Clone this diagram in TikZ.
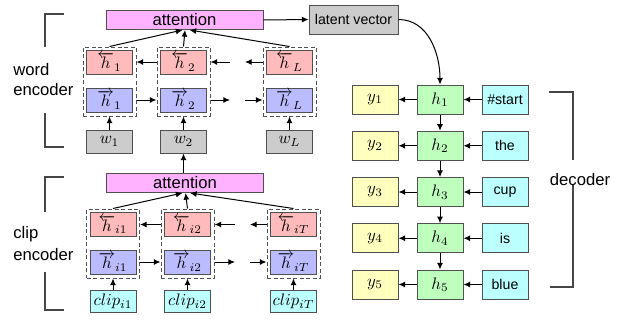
\documentclass[tikz,border=0pt]{standalone}
\usepackage{fontspec}
\setmainfont{Liberation Sans}
\usetikzlibrary{arrows.meta}
\definecolor{bordergray}{RGB}{80,80,80}
\definecolor{brackgray}{RGB}{70,70,70}
\definecolor{attncol}{RGB}{255,178,255}
\definecolor{redcol}{RGB}{255,187,187}
\definecolor{bluecol}{RGB}{187,187,255}
\definecolor{graycol}{RGB}{204,204,204}
\definecolor{cyancol}{RGB}{187,255,255}
\definecolor{yellowcol}{RGB}{255,255,190}
\definecolor{greencol}{RGB}{190,255,190}
\begin{document}
\begin{tikzpicture}[x=0.6pt,y=-0.6pt,
  box/.style={draw=bordergray, line width=0.6pt, inner sep=0pt,
    minimum width={46*0.6pt}, minimum height={24*0.6pt},
    font=\fontsize{10}{12}\selectfont},
  attn/.style={box, fill=attncol, minimum width={157*0.6pt}, minimum height={19*0.6pt}},
  bwd/.style={box, fill=redcol},
  fwd/.style={box, fill=bluecol},
  inp/.style={box, fill=graycol, minimum height={23*0.6pt}},
  clipbox/.style={box, fill=cyancol, minimum height={22*0.6pt}},
  group/.style={draw=bordergray, line width=0.6pt, dash pattern=on 2.4pt off 1.5pt,
    inner sep=0pt, minimum width={53*0.6pt}, minimum height={69*0.6pt}},
  dbox/.style={box, minimum height={29*0.6pt}},
  small/.style={font=\fontsize{8.5}{10}\selectfont},
  arr/.style={-{Latex[length=4pt,width=3.6pt]}, line width=0.6pt},
  brk/.style={draw=brackgray, line width=0.8pt},
  lbl/.style={font=\fontsize{10}{12}\selectfont, inner sep=0pt, anchor=base west}
]
\useasboundingbox (0,0) rectangle (618,323);

% ---------- word encoder ----------
\node[attn] (wattn) at (184.5,20) {attention};
\node[box, fill=graycol, small, minimum width={89*0.6pt}, minimum height={29*0.6pt}] (lat) at (353.5,19.5) {latent vector};

\node[group] (wg1) at (109.5,81.5) {};
\node[group] (wg2) at (183.5,81.5) {};
\node[group] (wg3) at (289.5,81.5) {};
\node[bwd] (wb1) at (109.5,62) {$\overleftarrow{h}_1$};
\node[bwd] (wb2) at (183.5,62) {$\overleftarrow{h}_2$};
\node[bwd] (wb3) at (289.5,62) {$\overleftarrow{h}_L$};
\node[fwd] (wf1) at (109.5,100) {$\overrightarrow{h}_1$};
\node[fwd] (wf2) at (183.5,100) {$\overrightarrow{h}_2$};
\node[fwd] (wf3) at (289.5,100) {$\overrightarrow{h}_L$};
\node[inp] (w1) at (109.5,141.5) {$w_1$};
\node[inp] (w2) at (183.5,141.5) {$w_2$};
\node[inp] (w3) at (289.5,141.5) {$w_L$};

\coordinate (wbL) at (230,62);
\coordinate (wbR) at (245,62);
\coordinate (wfL) at (230,100);
\coordinate (wfR) at (245,100);

\draw[arr] (w1.north) -- (wg1.south);
\draw[arr] (w2.north) -- (wg2.south);
\draw[arr] (w3.north) -- (wg3.south);
\draw[arr] (wb2 -| wg2.west) -- (wb1 -| wg1.east);
\draw[arr] (wbL) -- (wb2 -| wg2.east);
\draw[arr] (wb3 -| wg3.west) -- (wbR);
\draw[arr] (wf1 -| wg1.east) -- (wf2 -| wg2.west);
\draw[arr] (wf2 -| wg2.east) -- (wfL);
\draw[arr] (wfR) -- (wf3 -| wg3.west);
\draw[arr] (wg1.north) -- ([xshift=-1.2pt]wattn.south);
\draw[arr] (wg2.north) -- ([xshift=0.3pt]wattn.south);
\draw[arr] (wg3.north) -- ([xshift=3pt]wattn.south);
\draw[arr] (wattn.east) -- (lat.west);

% ---------- clip encoder ----------
\node[attn] (cattn) at (185,183) {attention};
\node[group] (cg1) at (113,243.5) {};
\node[group] (cg2) at (187.5,243.5) {};
\node[group] (cg3) at (293.5,243.5) {};
\node[bwd] (cb1) at (113,224.5) {$\overleftarrow{h}_{i1}$};
\node[bwd] (cb2) at (187.5,224.5) {$\overleftarrow{h}_{i2}$};
\node[bwd] (cb3) at (293.5,224.5) {$\overleftarrow{h}_{iT}$};
\node[fwd] (cf1) at (113,262) {$\overrightarrow{h}_{i1}$};
\node[fwd] (cf2) at (187.5,262) {$\overrightarrow{h}_{i2}$};
\node[fwd] (cf3) at (293.5,262) {$\overrightarrow{h}_{iT}$};
\node[clipbox] (c1) at (113,301.5) {$clip_{i1}$};
\node[clipbox] (c2) at (187.5,301.5) {$clip_{i2}$};
\node[clipbox] (c3) at (293.5,301.5) {$clip_{iT}$};

\coordinate (cbL) at (235,224.5);
\coordinate (cbR) at (250,224.5);
\coordinate (cfL) at (235,262);
\coordinate (cfR) at (250,262);

\draw[arr] (c1.north) -- (cg1.south);
\draw[arr] (c2.north) -- (cg2.south);
\draw[arr] (c3.north) -- (cg3.south);
\draw[arr] (cb2 -| cg2.west) -- (cb1 -| cg1.east);
\draw[arr] (cbL) -- (cb2 -| cg2.east);
\draw[arr] (cb3 -| cg3.west) -- (cbR);
\draw[arr] (cf1 -| cg1.east) -- (cf2 -| cg2.west);
\draw[arr] (cf2 -| cg2.east) -- (cfL);
\draw[arr] (cfR) -- (cf3 -| cg3.west);
\draw[arr] (cg1.north) -- ([xshift=-1.5pt]cattn.south);
\draw[arr] (cg2.north) -- ([xshift=0.3pt]cattn.south);
\draw[arr] (cg3.north) -- ([xshift=3pt]cattn.south);
\draw[arr] (w2 |- cattn.north) -- (w2.south);

% ---------- decoder ----------
\node[dbox, fill=yellowcol] (y1) at (375,99.5) {$y_1$};
\node[dbox, fill=yellowcol] (y2) at (375,145.75) {$y_2$};
\node[dbox, fill=yellowcol] (y3) at (375,192) {$y_3$};
\node[dbox, fill=yellowcol] (y4) at (375,238.25) {$y_4$};
\node[dbox, fill=yellowcol] (y5) at (375,284.5) {$y_5$};
\node[dbox, fill=greencol] (h1) at (440,99.5) {$h_1$};
\node[dbox, fill=greencol] (h2) at (440,145.75) {$h_2$};
\node[dbox, fill=greencol] (h3) at (440,192) {$h_3$};
\node[dbox, fill=greencol] (h4) at (440,238.25) {$h_4$};
\node[dbox, fill=greencol] (h5) at (440,284.5) {$h_5$};
\node[dbox, fill=cyancol, small] (x1) at (505,99.5) {\#start};
\node[dbox, fill=cyancol, small] (x2) at (505,145.75) {the};
\node[dbox, fill=cyancol, small] (x3) at (505,192) {cup};
\node[dbox, fill=cyancol, small] (x4) at (505,238.25) {is};
\node[dbox, fill=cyancol, small] (x5) at (505,284.5) {blue};

\foreach \i in {1,...,5} {
  \draw[arr] (h\i.west) -- (y\i.east);
  \draw[arr] (x\i.west) -- (h\i.east);
}
\draw[arr] (h1.south) -- (h2.north);
\draw[arr] (h2.south) -- (h3.north);
\draw[arr] (h3.south) -- (h4.north);
\draw[arr] (h4.south) -- (h5.north);
\draw[arr] (lat.east) to[out=0,in=90] (h1.north);

% ---------- brackets and labels ----------
\draw[brk] (64,14) -- (45,14) -- (45,47);
\draw[brk] (45,113) -- (45,147) -- (64,147);
\node[lbl] (lword) at (13,75) {word};
\node[lbl] (lwenc) at (13,95) {encoder};

\draw[brk] (64,177) -- (45,177) -- (45,212);
\draw[brk] (45,272) -- (45,310) -- (64,310);
\node[lbl] (lclip) at (13,238) {clip};
\node[lbl] (lcenc) at (13,260) {encoder};

\draw[brk] (549,92) -- (573,92) -- (573,160);
\draw[brk] (573,185) -- (573,287) -- (550,287);
\node[lbl, anchor=base] (ldec) at (580,185) {decoder};
\end{tikzpicture}
\end{document}
